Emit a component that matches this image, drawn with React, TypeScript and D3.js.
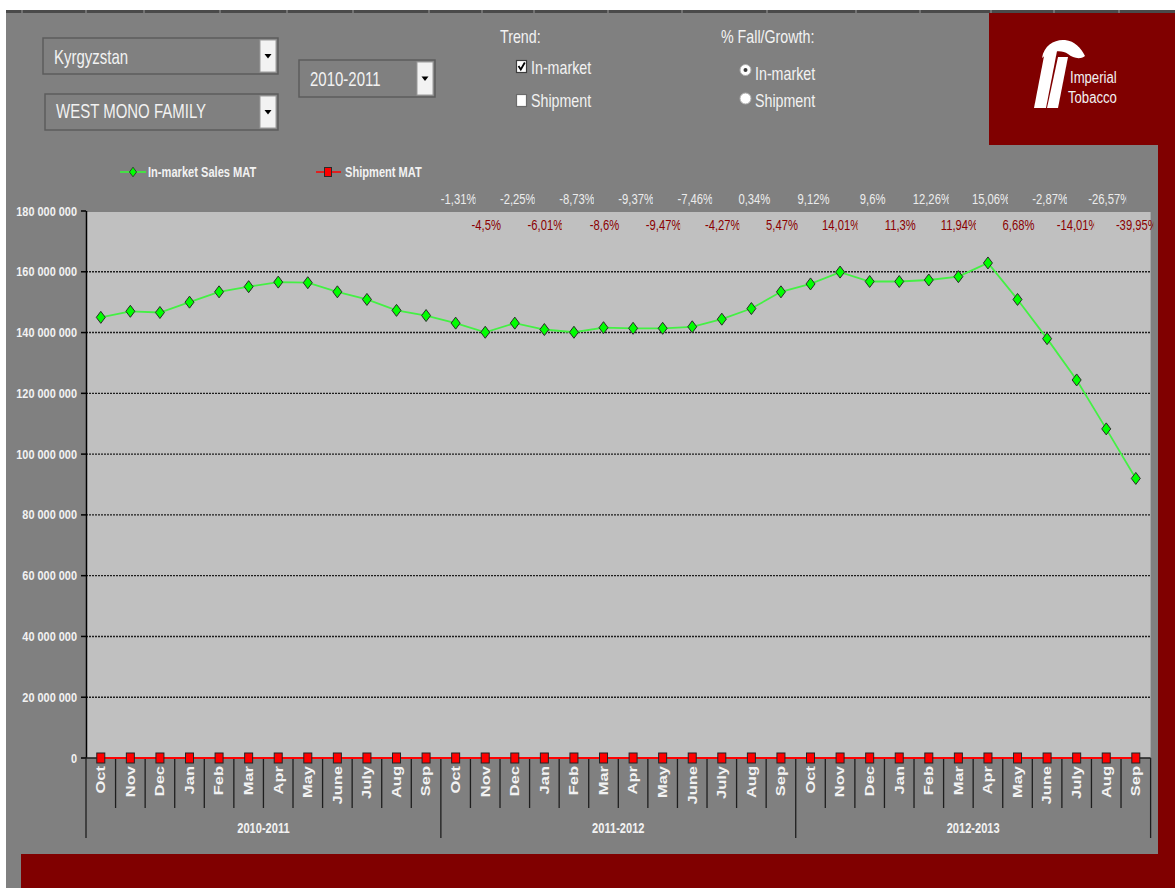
import React from 'react';
import * as d3 from 'd3';

// ---- data ----
const months = ['Oct', 'Nov', 'Dec', 'Jan', 'Feb', 'Mar', 'Apr', 'May', 'June', 'July', 'Aug', 'Sep'];
const seasons = ['2010-2011', '2011-2012', '2012-2013'];

// In-market Sales MAT, millions of sticks
const inMarketMAT = [
  145.0, 147.0, 146.6, 150.0, 153.4, 155.1, 156.6, 156.4, 153.4, 150.9, 147.3, 145.6,
  143.1, 140.1, 143.1, 141.0, 140.1, 141.6, 141.4, 141.4, 141.9, 144.4, 147.9, 153.4,
  156.0, 159.9, 156.8, 156.8, 157.3, 158.4, 162.9, 150.9, 138.0, 124.4, 108.3, 92.0,
];
const shipmentMAT = [
  0, 0, 0, 0, 0, 0, 0, 0, 0, 0, 0, 0,
  0, 0, 0, 0, 0, 0, 0, 0, 0, 0, 0, 0,
  0, 0, 0, 0, 0, 0, 0, 0, 0, 0, 0, 0,
];
// % fall/growth, from Oct 2011 to Sep 2013 (alternating rows)
const growthLabels = [
  '-1,31%', '-4,5%', '-2,25%', '-6,01%', '-8,73%', '-8,6%', '-9,37%', '-9,47%', '-7,46%', '-4,27%', '0,34%', '5,47%',
  '9,12%', '14,01%', '9,6%', '11,3%', '12,26%', '11,94%', '15,06%', '6,68%', '-2,87%', '-14,01%', '-26,57%', '-39,95%',
];
const growthStart = 12;
const yTicks = [0, 20e6, 40e6, 60e6, 80e6, 100e6, 120e6, 140e6, 160e6, 180e6];

const countries = ['Kyrgyzstan'];
const families = ['WEST MONO FAMILY'];
const periods = ['2010-2011'];

// ---- layout ----
const W = 1175;
const H = 888;
const plot = { left: 86, right: 1150.6, top: 211, bottom: 758 };
const FONT = "'Liberation Sans', Arial, sans-serif";
const LIGHT = '#f2f2f2';
const MAROON = '#800000';
const GRAY = '#808080';

// column borders of the sheet, seen in the strip at the top
const sheetCols = [22, 86, 144, 220, 287, 353, 429, 482, 534, 608, 682, 767, 856, 920, 991, 1054, 1119];

const T = ({ x, y, size, sx = 0.75, anchor = 'start', weight = 'normal', fill = LIGHT, children }: any) => (
  <text
    transform={`translate(${x},${y}) scale(${sx},1)`}
    fontSize={size}
    fontFamily={FONT}
    fontWeight={weight}
    textAnchor={anchor}
    fill={fill}
  >
    {children}
  </text>
);

const Dropdown = ({ x, y, w, h, label, tx, ty }: any) => (
  <g>
    <rect x={x} y={y} width={w} height={h} fill={GRAY} stroke="#5c5c5c" strokeWidth={1.5} />
    <rect x={x + w - 18} y={y + 2} width={16} height={h - 4} fill="#f2f2f2" stroke="#9a9a9a" strokeWidth={1} />
    <path
      d={`M${x + w - 13.5},${y + h / 2 - 2} L${x + w - 6.5},${y + h / 2 - 2} L${x + w - 10},${y + h / 2 + 2.5} Z`}
      fill="#000"
    />
    <T x={tx} y={ty} size={20}>{label}</T>
  </g>
);

const diamond = 'M0,-6 L4.5,0 L0,6 L-4.5,0 Z';

export default function App() {
  const cats = seasons.flatMap((s) => months.map((m) => `${s}|${m}`));
  const x = d3.scaleBand<string>().domain(cats).range([plot.left, plot.right]);
  const bw = x.bandwidth();
  const cx = (i: number) => (x(cats[i]) as number) + bw / 2;
  const y = d3.scaleLinear().domain([0, 180e6]).range([plot.bottom, plot.top]);
  const fmt = (v: number) => d3.format(',')(v).replace(/,/g, ' ');

  const line = d3
    .line<number>()
    .x((_, i) => cx(i))
    .y((d) => y(d));

  const inMarket = inMarketMAT.map((v) => v * 1e6);

  return (
    <div>
      <style>{'body{margin:0}'}</style>
      <svg width={W} height={H} style={{ display: 'block' }}>
        <defs>
          {growthLabels.map((_, k) => {
            const i = growthStart + k;
            const topRow = k % 2 === 0;
            const clipR = cx(i) + (topRow ? 20 : 17.5);
            return (
              <clipPath key={k} id={`gclip${k}`}>
                <rect x={cx(i) - 40} y={180} width={clipR - (cx(i) - 40)} height={60} />
              </clipPath>
            );
          })}
        </defs>

        {/* frame */}
        <rect x={0} y={0} width={W} height={H} fill="#fff" />
        <rect x={6} y={13} width={W - 6} height={H - 13} fill={GRAY} />
        <rect x={6} y={10} width={W - 6} height={3} fill="#4a4a4a" />
        {sheetCols.map((c) => (
          <line key={c} x1={c} x2={c} y1={10} y2={13} stroke="#9a9a9a" strokeWidth={1} />
        ))}
        <rect x={989} y={13} width={W - 989} height={132} fill={MAROON} />
        <rect x={1158} y={145} width={W - 1158} height={H - 145} fill={MAROON} />
        <rect x={21} y={854} width={W - 21} height={H - 854} fill={MAROON} />

        {/* logo */}
        <g fill="#fff">
          <path d="M1034,108 L1046,108 L1057,51 L1045,51 Z" />
          <path d="M1047,108 L1058,108 L1068,57 L1058,57 Z" />
          <path d="M1042,58 C1044,45 1055,39 1065,40 C1075,41 1081,48 1085,56 C1080,60 1073,58 1068,54 C1062,50 1052,50 1042,58 Z" />
        </g>
        <T x={1070} y={83} size={16} sx={0.82}>Imperial</T>
        <T x={1068} y={103} size={16} sx={0.82}>Tobacco</T>

        {/* controls */}
        <Dropdown x={43} y={38} w={235} h={36} label={countries[0]} tx={54} ty={64} />
        <Dropdown x={45} y={94} w={233} h={36} label={families[0]} tx={56} ty={118} />
        <Dropdown x={299} y={60} w={136} h={37} label={periods[0]} tx={310} ty={86} />

        <T x={500} y={43} size={19}>Trend:</T>
        <rect x={516.5} y={60.5} width={10} height={12} fill="#fff" stroke="#3c3c3c" strokeWidth={1.2} />
        <path d="M518.5,66 L520.8,69.5 L524.8,62.5" fill="none" stroke="#000" strokeWidth={1.8} />
        <T x={531} y={74} size={19}>In-market</T>
        <rect x={516.5} y={94.5} width={10} height={12} fill="#fff" stroke="#6a6a6a" strokeWidth={1.2} />
        <T x={531} y={106.5} size={19}>Shipment</T>

        <T x={721} y={43} size={19}>% Fall/Growth:</T>
        <circle cx={745.5} cy={70} r={5.5} fill="#fff" stroke="#b0b0b0" strokeWidth={1} />
        <circle cx={745.5} cy={70} r={2} fill="#3c3c3c" />
        <T x={755} y={79.5} size={19}>In-market</T>
        <circle cx={745.5} cy={98.5} r={5.5} fill="#fff" stroke="#b0b0b0" strokeWidth={1} />
        <T x={755} y={106.5} size={19}>Shipment</T>

        {/* legend */}
        <line x1={120} x2={146} y1={172} y2={172} stroke="#33ff33" strokeWidth={1.5} />
        <path d={diamond} transform="translate(133,172) scale(0.8)" fill="#00ff00" stroke="#2a2a2a" strokeWidth={1} />
        <T x={148} y={177} size={15} weight="bold" sx={0.74}>In-market Sales MAT</T>
        <line x1={316} x2={341} y1={172} y2={172} stroke="#ff0000" strokeWidth={1.5} />
        <rect x={324.5} y={167.5} width={7} height={9} fill="#ff0000" stroke="#2a2a2a" strokeWidth={1} />
        <T x={345} y={177} size={15} weight="bold" sx={0.74}>Shipment MAT</T>

        {/* plot area */}
        <rect x={plot.left} y={plot.top + 1} width={plot.right - plot.left} height={plot.bottom - plot.top - 1} fill="#c0c0c0" />
        {yTicks
          .filter((t) => t > 0 && t < 180e6)
          .map((t) => (
            <line
              key={t}
              x1={plot.left}
              x2={plot.right}
              y1={y(t)}
              y2={y(t)}
              stroke="#1e1e1e"
              strokeWidth={1.4}
              strokeDasharray="2,1"
            />
          ))}

        {/* y axis */}
        <line x1={plot.left + 0.5} x2={plot.left + 0.5} y1={plot.top} y2={plot.bottom} stroke="#000" strokeWidth={1.5} />
        {yTicks.map((t) => (
          <g key={t}>
            <line x1={81} x2={plot.left} y1={y(t)} y2={y(t)} stroke="#000" strokeWidth={1.5} />
            <T x={77} y={y(t) + 4.5} size={13} weight="bold" sx={0.84} anchor="end">
              {fmt(t)}
            </T>
          </g>
        ))}

        {/* category axis */}
        <line x1={plot.left} x2={plot.right} y1={plot.bottom} y2={plot.bottom} stroke="#1e1e1e" strokeWidth={1.5} />
        {d3.range(cats.length + 1).map((i) => {
          const bx = plot.left + i * bw;
          const major = i % months.length === 0;
          return (
            <line
              key={i}
              x1={bx}
              x2={bx}
              y1={plot.bottom}
              y2={major ? 838 : 808}
              stroke="#1e1e1e"
              strokeWidth={1.3}
            />
          );
        })}
        {cats.map((c, i) => (
          <text
            key={c}
            transform={`translate(${cx(i)},766) scale(0.75,1) rotate(-90)`}
            dy="0.35em"
            fontSize={16.5}
            fontFamily={FONT}
            fontWeight="bold"
            textAnchor="end"
            fill={LIGHT}
          >
            {c.split('|')[1]}
          </text>
        ))}
        {seasons.map((s, k) => (
          <T
            key={s}
            x={plot.left + (k + 0.5) * months.length * bw}
            y={833}
            size={15}
            weight="bold"
            sx={0.74}
            anchor="middle"
          >
            {s}
          </T>
        ))}

        {/* growth labels */}
        {growthLabels.map((g, k) => {
          const i = growthStart + k;
          const topRow = k % 2 === 0;
          return (
            <g key={k} clipPath={`url(#gclip${k})`}>
              <T
                x={cx(i) + (topRow ? 3 : 1)}
                y={topRow ? 204 : 229.5}
                size={15}
                anchor="middle"
                fill={topRow ? '#ececec' : '#8b0000'}
              >
                {g}
              </T>
            </g>
          );
        })}

        {/* shipment series */}
        <path d={line(shipmentMAT) as string} fill="none" stroke="#ff0000" strokeWidth={2} />
        {shipmentMAT.map((v, i) => (
          <rect key={i} x={cx(i) - 4} y={y(v) - 5} width={8} height={10} fill="#ff0000" stroke="#222" strokeWidth={1} />
        ))}

        {/* in-market series */}
        <path d={line(inMarket) as string} fill="none" stroke="#44f044" strokeWidth={1.8} />
        {inMarket.map((v, i) => (
          <path key={i} d={diamond} transform={`translate(${cx(i)},${y(v)})`} fill="#00ff00" stroke="#2a2a2a" strokeWidth={1} />
        ))}
      </svg>
    </div>
  );
}
